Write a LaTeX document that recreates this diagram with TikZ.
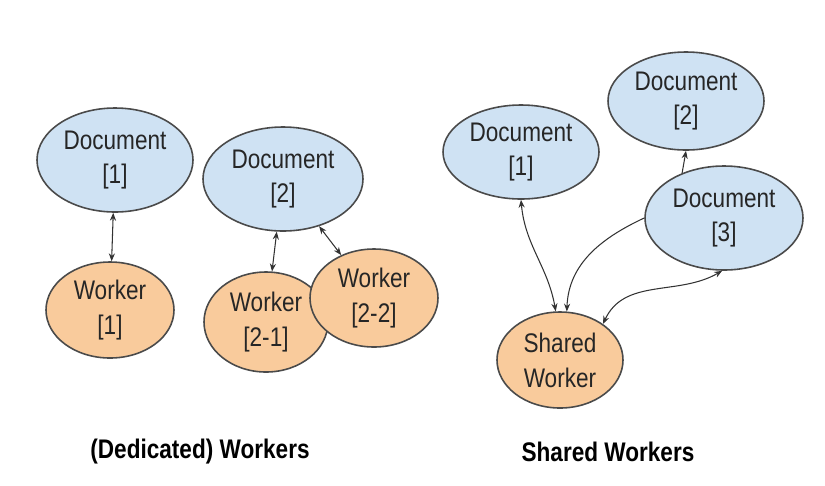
\documentclass[tikz,border=0pt]{standalone}
\usepackage{fontspec}
\setmainfont{Liberation Sans}
\newfontfamily\tallsans[FakeStretch=0.84]{Liberation Sans}
\usepackage{tikz}
\usetikzlibrary{arrows.meta,shapes.geometric}

\definecolor{docblue}{HTML}{CFE2F3}
\definecolor{workorange}{HTML}{F9CB9C}
\definecolor{rim}{HTML}{4A4A4A}

\tikzset{
  blob/.style={ellipse, draw=rim, line width=0.9pt, inner sep=0pt, align=center,
    text=black!85, font=\tallsans\fontsize{15.3}{19.8}\selectfont},
  doc/.style={blob, fill=docblue},
  wrk/.style={blob, fill=workorange},
  link/.style={line width=0.6pt, black!80},
  both/.style={link, {Stealth[length=4.5pt,width=3.5pt]}-{Stealth[length=4.5pt,width=3.5pt]}},
  one/.style={link, -{Stealth[length=4.5pt,width=3.5pt]}},
  caption/.style={font=\tallsans\fontsize{15.3}{18}\selectfont\bfseries}
}

\begin{document}
\begin{tikzpicture}[x=0.2mm, y=-0.2mm]
    \useasboundingbox (0, 0) rectangle (825, 485);

    \node [doc, minimum width=3.12cm, minimum height=2.08cm] (ldoc1) at (115, 160) {Document\\{[1]}};
    \node [doc, minimum width=3.2cm, minimum height=2.08cm] (ldoc2) at (283, 179) {Document\\{[2]}};
    \node [wrk, minimum width=2.56cm, minimum height=1.92cm] (lwrk1) at (110, 310) {Worker\\{[1]}};
    \node [wrk, minimum width=2.48cm, minimum height=2cm] (lwrk21) at (266, 322) {Worker\\{[2-1]}};
    \node [wrk, minimum width=2.56cm, minimum height=1.96cm] (lwrk22) at (374, 298) {Worker\\{[2-2]}};

    \draw [both] (ldoc1) -- (lwrk1);
    \draw [both] (ldoc2) -- (lwrk21);
    \draw [both] (ldoc2) -- (lwrk22);

    \node [doc, minimum width=3.12cm, minimum height=1.88cm] (rdoc1) at (521, 152) {Document\\{[1]}};
    \node [doc, minimum width=3.12cm, minimum height=1.96cm] (rdoc2) at (686, 101) {Document\\{[2]}};
    \node [doc, minimum width=3.16cm, minimum height=2.08cm] (rdoc3) at (724, 218) {Document\\{[3]}};
    \node [wrk, minimum width=2.52cm, minimum height=1.92cm] (shared) at (560, 360) {Shared\\Worker};

    \draw [both] (rdoc1.south) to [out=-85, in=100] (shared.95);
    \draw [one] (rdoc3.west) to [out=205, in=88] (shared.82);
    \draw [one] (rdoc3.133) -- (rdoc2.south);
    \draw [both] (shared.40) to [out=65, in=-150] (rdoc3.-92);

    \node [caption] (capl) at (200, 452) {(Dedicated) Workers};
    \node [caption] (capr) at (608, 452) {Shared Workers};
\end{tikzpicture}
\end{document}
